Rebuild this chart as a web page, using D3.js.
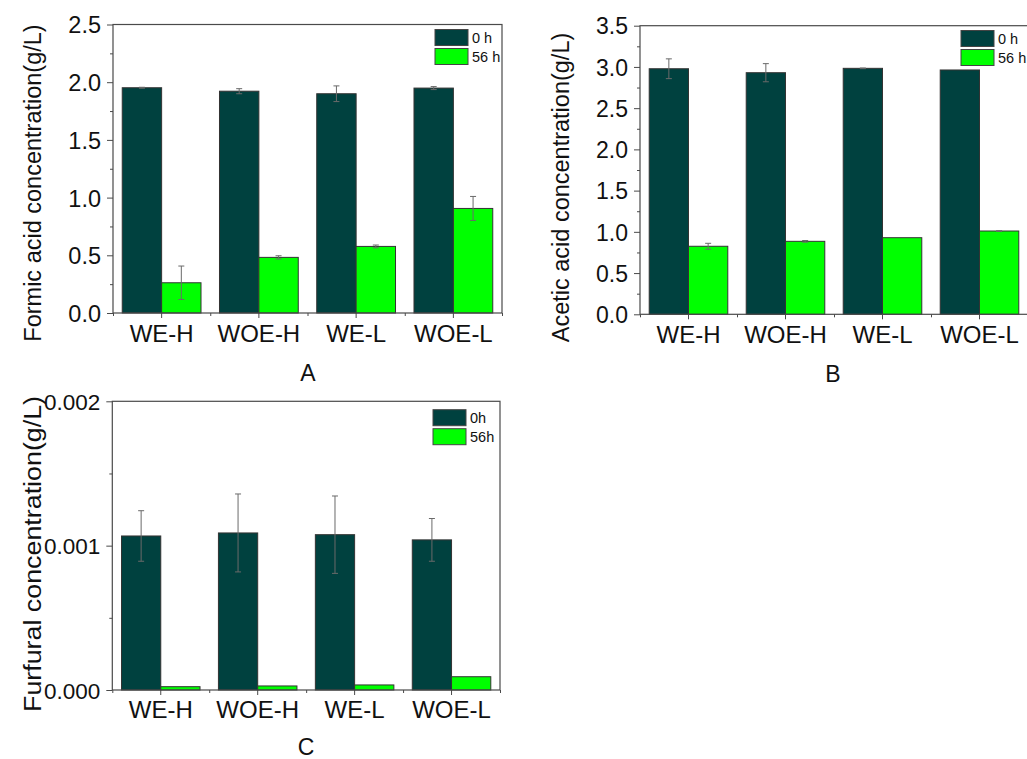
<!DOCTYPE html>
<html>
<head>
<meta charset="utf-8">
<script src="https://cdn.jsdelivr.net/npm/d3@7"></script>
<style>
  html, body { margin: 0; padding: 0; background: #fff; }
  svg { display: block; }
  text { font-family: "Liberation Sans", Arial, sans-serif; fill: #111; }
</style>
</head>
<body>
<svg id="chart" width="1027" height="759"></svg>
<script>
// Sample groups on the x axis
const categories = ["WE-H", "WOE-H", "WE-L", "WOE-L"];

// Formic acid (g/L)
const formic0h = [1.952, 1.922, 1.900, 1.949];
const formic0hErr = [0.004, 0.022, 0.068, 0.013];
const formic56h = [0.262, 0.482, 0.577, 0.906];
const formic56hErr = [0.145, 0.014, 0.012, 0.104];

// Acetic acid (g/L)
const acetic0h = [2.978, 2.930, 2.983, 2.963];
const acetic0hErr = [0.12, 0.11, 0.004, 0];
const acetic56h = [0.825, 0.885, 0.929, 1.010];
const acetic56hErr = [0.036, 0.01, 0, 0.004];

// Furfural (g/L)
const furfural0h = [0.001067, 0.001088, 0.001076, 0.001040];
const furfural0hErr = [0.000175, 0.00027, 0.000268, 0.000148];
const furfural56h = [0.000023, 0.000028, 0.000035, 0.000092];
const furfural56hErr = [0, 0, 0, 0];

// Axis ticks
const formicTicks = [0, 0.5, 1.0, 1.5, 2.0, 2.5];
const formicMinor = [0.25, 0.75, 1.25, 1.75, 2.25];
const aceticTicks = [0, 0.5, 1.0, 1.5, 2.0, 2.5, 3.0, 3.5];
const aceticMinor = [0.25, 0.75, 1.25, 1.75, 2.25, 2.75, 3.25];
const furfuralTicks = [0, 0.001, 0.002];
const furfuralMinor = [0.0005, 0.0015];

const DARK = "#00413f";
const GREEN = "#00ff00";
const LINE = "#4a4a4a";

const svg = d3.select("#chart");

function drawPanel(cfg) {
  const g = svg.append("g");
  const { left, top, right, bottom } = cfg;

  const x = d3.scaleBand().domain(categories).range([left, right])
    .paddingInner(0.19).paddingOuter(0.095);
  const xs = d3.scaleBand().domain([0, 1]).range([0, x.bandwidth()]);
  const xEdge = d3.scaleLinear().domain([0.5, categories.length + 0.5]).range([left, right]);
  const y = d3.scaleLinear().domain(cfg.yDomain).range([bottom, top]);

  const series = [
    { values: cfg.s0, err: cfg.e0, color: DARK },
    { values: cfg.s1, err: cfg.e1, color: GREEN }
  ];

  // bars
  series.forEach((s, si) => {
    g.selectAll(null).data(categories).enter().append("rect")
      .attr("x", d => x(d) + xs(si))
      .attr("y", (d, i) => y(s.values[i]))
      .attr("width", xs.bandwidth())
      .attr("height", (d, i) => y(0) - y(s.values[i]))
      .attr("fill", s.color)
      .attr("stroke", "#333")
      .attr("stroke-width", 1);
  });

  // error bars
  series.forEach((s, si) => {
    categories.forEach((c, i) => {
      if (!s.err[i]) return;
      const cx = x(c) + xs(si) + xs.bandwidth() / 2;
      const y1 = y(s.values[i] + s.err[i]);
      const y2 = y(s.values[i] - s.err[i]);
      const eg = g.append("g").attr("stroke", "#6a6a6a").attr("stroke-width", 1).attr("fill", "none");
      eg.append("line").attr("x1", cx).attr("x2", cx).attr("y1", y1).attr("y2", y2);
      eg.append("line").attr("x1", cx - 3).attr("x2", cx + 3).attr("y1", y1).attr("y2", y1);
      eg.append("line").attr("x1", cx - 3).attr("x2", cx + 3).attr("y1", y2).attr("y2", y2);
    });
  });

  // frame
  g.append("rect")
    .attr("x", left).attr("y", top)
    .attr("width", right - left).attr("height", bottom - top)
    .attr("fill", "none").attr("stroke", LINE).attr("stroke-width", 1.2);

  // y axis
  const yAxis = g.append("g").attr("transform", `translate(${left},0)`)
    .call(d3.axisLeft(y).tickValues(cfg.ticks).tickSize(6).tickPadding(6).tickFormat(cfg.fmt));
  yAxis.select(".domain").remove();
  yAxis.selectAll(".tick line").attr("stroke", LINE);
  yAxis.selectAll("text").style("font-size", cfg.tickSize + "px").attr("dy", "0.36em");

  const yMinor = g.append("g").attr("transform", `translate(${left},0)`)
    .call(d3.axisLeft(y).tickValues(cfg.minor).tickSize(3).tickFormat(""));
  yMinor.select(".domain").remove();
  yMinor.selectAll(".tick line").attr("stroke", LINE);

  // x axis
  const xAxis = g.append("g").attr("transform", `translate(0,${bottom})`)
    .call(d3.axisBottom(x).tickSize(5).tickPadding(5));
  xAxis.select(".domain").remove();
  xAxis.selectAll(".tick line").attr("stroke", LINE);
  xAxis.selectAll("text").style("font-size", "24px").attr("y", 0).attr("dy", 0)
    .attr("transform", `translate(0,${cfg.xLabelOffset})`);

  const xMinor = g.append("g").attr("transform", `translate(0,${bottom})`)
    .call(d3.axisBottom(xEdge).tickValues(d3.range(0.5, categories.length + 1, 1)).tickSize(3).tickFormat(""));
  xMinor.select(".domain").remove();
  xMinor.selectAll(".tick line").attr("stroke", LINE);

  // axis title
  const title = g.append("text")
    .attr("transform", `translate(${cfg.titleX},${cfg.titleY}) rotate(-90)`)
    .attr("text-anchor", "middle")
    .style("font-size", cfg.titleSize + "px")
    .text(cfg.title);
  if (cfg.titleLength) {
    title.attr("textLength", cfg.titleLength).attr("lengthAdjust", "spacingAndGlyphs");
  }

  // panel letter
  g.append("text")
    .attr("x", cfg.letterX).attr("y", cfg.letterY)
    .attr("text-anchor", "middle")
    .style("font-size", "23px")
    .text(cfg.letter);

  // legend
  cfg.legend.forEach((lab, i) => {
    const ly = cfg.legendY + i * 19;
    g.append("rect")
      .attr("x", cfg.legendX).attr("y", ly)
      .attr("width", 33).attr("height", 16)
      .attr("fill", i === 0 ? DARK : GREEN)
      .attr("stroke", "#444").attr("stroke-width", 1);
    g.append("text")
      .attr("x", cfg.legendX + 37).attr("y", ly + 13.5)
      .style("font-size", "14.5px")
      .text(lab);
  });
}

drawPanel({
  left: 113, top: 24.5, right: 502, bottom: 313,
  yDomain: [0, 2.5], ticks: formicTicks, minor: formicMinor, fmt: d3.format(".1f"), tickSize: 23.5,
  s0: formic0h, e0: formic0hErr, s1: formic56h, e1: formic56hErr,
  title: "Formic acid concentration(g/L)", titleX: 41, titleY: 183, titleSize: 23.5,
  letter: "A", letterX: 308, letterY: 381,
  legend: ["0 h", "56 h"], legendX: 435, legendY: 29.5,
  xLabelOffset: 28.5
});

drawPanel({
  left: 640, top: 25.7, right: 1028, bottom: 314.3,
  yDomain: [0, 3.5], ticks: aceticTicks, minor: aceticMinor, fmt: d3.format(".1f"), tickSize: 23,
  s0: acetic0h, e0: acetic0hErr, s1: acetic56h, e1: acetic56hErr,
  title: "Acetic acid concentration(g/L)", titleX: 569, titleY: 187.5, titleSize: 23.5,
  letter: "B", letterX: 833, letterY: 381.7,
  legend: ["0 h", "56 h"], legendX: 961, legendY: 30.5,
  xLabelOffset: 29
});

drawPanel({
  left: 112.3, top: 401.3, right: 500, bottom: 690,
  yDomain: [0, 0.002], ticks: furfuralTicks, minor: furfuralMinor, fmt: d3.format(".3f"), tickSize: 22.5,
  s0: furfural0h, e0: furfural0hErr, s1: furfural56h, e1: furfural56hErr,
  title: "Furfural concentration(g/L)", titleX: 41, titleY: 554, titleSize: 23.5, titleLength: 316,
  letter: "C", letterX: 306, letterY: 755,
  legend: ["0h", "56h"], legendX: 433, legendY: 409.7,
  xLabelOffset: 27.7
});
</script>
</body>
</html>
